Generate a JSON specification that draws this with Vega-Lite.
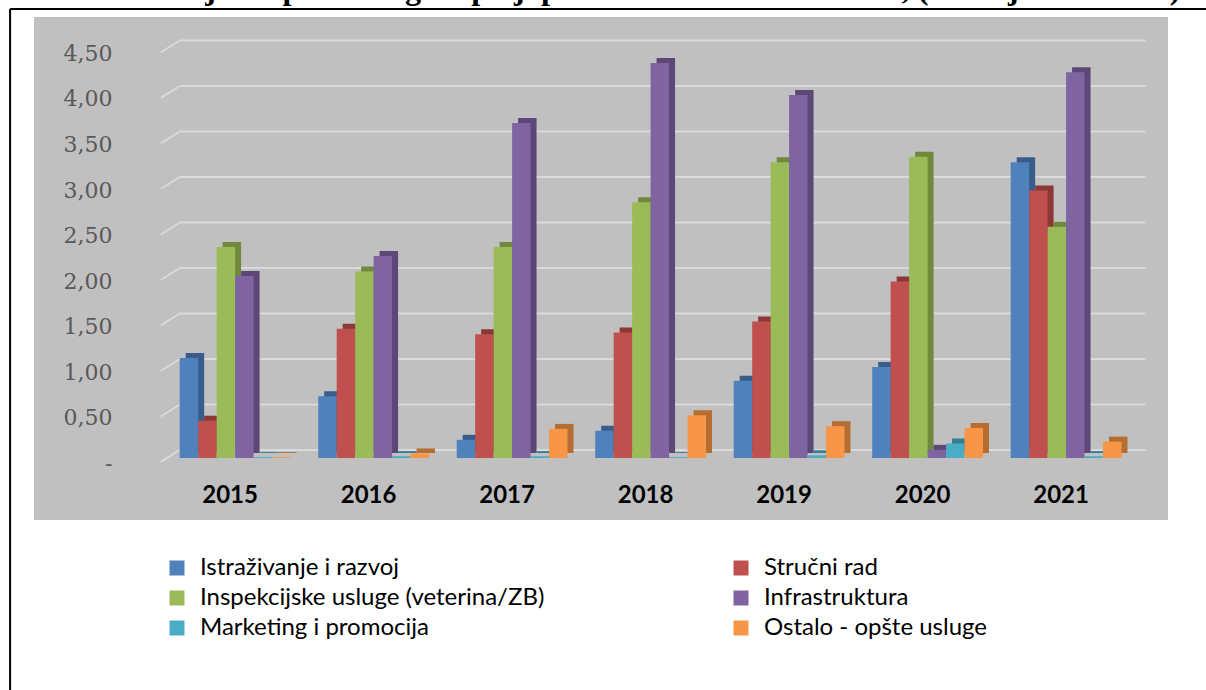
{
  "$schema": "https://vega.github.io/schema/vega-lite/v6.json",
  "width": 1134,
  "height": 503,
  "autosize": {"type": "none"},
  "padding": {"left": 34, "top": 17, "right": 38, "bottom": 170},
  "background": "white",
  "title": {
    "text": "Grafikon 7: Mjere opših usluga u poljoprivredi u BiH - struktura, (u milijunima KM)",
    "font": "Liberation Serif",
    "fontSize": 32.2,
    "fontWeight": "bold",
    "color": "black",
    "anchor": "start",
    "frame": "group",
    "baseline": "alphabetic",
    "offset": 0,
    "dx": -29,
    "dy": 23
  },
  "datasets": {
    "bars": [
      {"year": "2015", "series": "Istraživanje i razvoj", "value": 1.10},
      {"year": "2015", "series": "Stručni rad", "value": 0.41},
      {"year": "2015", "series": "Inspekcijske usluge (veterina/ZB)", "value": 2.32},
      {"year": "2015", "series": "Infrastruktura", "value": 2.00},
      {"year": "2015", "series": "Marketing i promocija", "value": 0.01},
      {"year": "2015", "series": "Ostalo - opšte usluge", "value": 0.01},
      {"year": "2016", "series": "Istraživanje i razvoj", "value": 0.68},
      {"year": "2016", "series": "Stručni rad", "value": 1.42},
      {"year": "2016", "series": "Inspekcijske usluge (veterina/ZB)", "value": 2.05},
      {"year": "2016", "series": "Infrastruktura", "value": 2.22},
      {"year": "2016", "series": "Marketing i promocija", "value": 0.02},
      {"year": "2016", "series": "Ostalo - opšte usluge", "value": 0.05},
      {"year": "2017", "series": "Istraživanje i razvoj", "value": 0.20},
      {"year": "2017", "series": "Stručni rad", "value": 1.36},
      {"year": "2017", "series": "Inspekcijske usluge (veterina/ZB)", "value": 2.32},
      {"year": "2017", "series": "Infrastruktura", "value": 3.68},
      {"year": "2017", "series": "Marketing i promocija", "value": 0.02},
      {"year": "2017", "series": "Ostalo - opšte usluge", "value": 0.32},
      {"year": "2018", "series": "Istraživanje i razvoj", "value": 0.30},
      {"year": "2018", "series": "Stručni rad", "value": 1.38},
      {"year": "2018", "series": "Inspekcijske usluge (veterina/ZB)", "value": 2.81},
      {"year": "2018", "series": "Infrastruktura", "value": 4.34},
      {"year": "2018", "series": "Marketing i promocija", "value": 0.01},
      {"year": "2018", "series": "Ostalo - opšte usluge", "value": 0.47},
      {"year": "2019", "series": "Istraživanje i razvoj", "value": 0.85},
      {"year": "2019", "series": "Stručni rad", "value": 1.50},
      {"year": "2019", "series": "Inspekcijske usluge (veterina/ZB)", "value": 3.25},
      {"year": "2019", "series": "Infrastruktura", "value": 3.99},
      {"year": "2019", "series": "Marketing i promocija", "value": 0.03},
      {"year": "2019", "series": "Ostalo - opšte usluge", "value": 0.35},
      {"year": "2020", "series": "Istraživanje i razvoj", "value": 1.00},
      {"year": "2020", "series": "Stručni rad", "value": 1.94},
      {"year": "2020", "series": "Inspekcijske usluge (veterina/ZB)", "value": 3.31},
      {"year": "2020", "series": "Infrastruktura", "value": 0.09},
      {"year": "2020", "series": "Marketing i promocija", "value": 0.16},
      {"year": "2020", "series": "Ostalo - opšte usluge", "value": 0.33},
      {"year": "2021", "series": "Istraživanje i razvoj", "value": 3.25},
      {"year": "2021", "series": "Stručni rad", "value": 2.94},
      {"year": "2021", "series": "Inspekcijske usluge (veterina/ZB)", "value": 2.54},
      {"year": "2021", "series": "Infrastruktura", "value": 4.24},
      {"year": "2021", "series": "Marketing i promocija", "value": 0.02},
      {"year": "2021", "series": "Ostalo - opšte usluge", "value": 0.18}
    ],
    "grid": [
      {"g": 0}, {"g": 0.5}, {"g": 1}, {"g": 1.5}, {"g": 2},
      {"g": 2.5}, {"g": 3}, {"g": 3.5}, {"g": 4}, {"g": 4.5}
    ]
  },
  "layer": [
    {
      "data": {"values": [{}]},
      "mark": {"type": "rule", "color": "black", "strokeWidth": 2},
      "encoding": {
        "x": {"datum": "2015", "type": "nominal", "bandPosition": -1.531},
        "y": {"datum": 4.934, "type": "quantitative"},
        "y2": {"datum": -2.7}
      }
    },
    {
      "data": {"values": [{}]},
      "mark": {"type": "rule", "color": "black", "strokeWidth": 2},
      "encoding": {
        "x": {"datum": "2015", "type": "nominal", "bandPosition": -1.531},
        "x2": {"datum": "2021", "bandPosition": 1.85},
        "y": {"datum": 4.934, "type": "quantitative"}
      }
    },
    {
      "data": {"name": "grid"},
      "mark": {"type": "rule", "color": "#dadada", "strokeWidth": 2, "yOffset": -8, "x2Offset": 24},
      "encoding": {
        "x": {"datum": "2015", "type": "nominal", "bandPosition": 0},
        "x2": {"datum": "2021", "bandPosition": 1},
        "y": {"field": "g", "type": "quantitative"}
      }
    },
    {
      "data": {"name": "grid"},
      "mark": {"type": "rule", "color": "#dadada", "strokeWidth": 2, "xOffset": -19, "yOffset": 4, "y2Offset": -8},
      "encoding": {
        "x": {"datum": "2015", "type": "nominal", "bandPosition": 0},
        "x2": {"datum": "2015", "bandPosition": 0},
        "y": {"field": "g", "type": "quantitative"},
        "y2": {"field": "g"}
      }
    },
    {
      "data": {"name": "bars"},
      "mark": {"type": "bar", "yOffset": -5, "y2Offset": -5},
      "encoding": {
        "x": {"field": "year", "type": "nominal"},
        "xOffset": {
          "field": "series", "type": "nominal",
          "sort": ["Istraživanje i razvoj", "Stručni rad", "Inspekcijske usluge (veterina/ZB)", "Infrastruktura", "Marketing i promocija", "Ostalo - opšte usluge"],
          "scale": {"paddingInner": 0, "paddingOuter": 0, "range": [6, 116.8]}
        },
        "y": {"field": "value", "type": "quantitative"},
        "color": {
          "field": "series", "type": "nominal",
          "sort": ["Istraživanje i razvoj", "Stručni rad", "Inspekcijske usluge (veterina/ZB)", "Infrastruktura", "Marketing i promocija", "Ostalo - opšte usluge"],
          "scale": {"range": ["#385d8a", "#8c3836", "#71893f", "#5c4776", "#357d91", "#b66d31"]},
          "legend": null
        }
      }
    },
    {
      "data": {"name": "bars"},
      "mark": {"type": "bar"},
      "encoding": {
        "x": {
          "field": "year", "type": "nominal",
          "scale": {"paddingInner": 0.2, "paddingOuter": 0.694, "align": 0.758},
          "axis": {
            "title": null, "orient": "bottom", "offset": -25, "domain": false, "ticks": false,
            "bandPosition": 0.5,
            "labelPadding": 0, "labelOffset": -5, "labelAngle": 0, "labelAlign": "center",
            "labelFont": "Lato", "labelFontSize": 24, "labelFontWeight": "bold", "labelColor": "black"
          }
        },
        "xOffset": {
          "field": "series", "type": "nominal",
          "sort": ["Istraživanje i razvoj", "Stručni rad", "Inspekcijske usluge (veterina/ZB)", "Infrastruktura", "Marketing i promocija", "Ostalo - opšte usluge"],
          "scale": {"paddingInner": 0, "paddingOuter": 0}
        },
        "y": {
          "field": "value", "type": "quantitative",
          "scale": {"domain": [-0.681, 4.846], "nice": false, "zero": false},
          "axis": {
            "title": null, "orient": "left", "offset": -80, "domain": false, "ticks": false, "grid": false,
            "values": [0, 0.5, 1, 1.5, 2, 2.5, 3, 3.5, 4, 4.5],
            "labelExpr": "datum.value == 0 ? '-' : replace(format(datum.value, '.2f'), '.', ',')",
            "labelPadding": 2, "labelOffset": 5,
            "labelFont": "DejaVu Serif", "labelFontSize": 22, "labelColor": "#595959"
          }
        },
        "color": {
          "field": "series", "type": "nominal",
          "sort": ["Istraživanje i razvoj", "Inspekcijske usluge (veterina/ZB)", "Marketing i promocija", "Stručni rad", "Infrastruktura", "Ostalo - opšte usluge"],
          "scale": {"range": ["#4f81bd", "#9bbb59", "#4bacc6", "#c0504d", "#8064a2", "#f79646"]},
          "legend": {
            "title": null, "orient": "none", "legendX": 131, "legendY": 539,
            "columns": 2, "columnPadding": 184, "rowPadding": 6,
            "symbolType": "square", "symbolSize": 225, "symbolStrokeWidth": 0,
            "labelFont": "Lato", "labelFontSize": 24, "labelColor": "black", "labelOffset": 11,
            "labelLimit": 600, "padding": 0
          }
        }
      }
    }
  ],
  "resolve": {"scale": {"color": "independent", "xOffset": "independent"}},
  "config": {
    "view": {"fill": "#c0c0c0", "stroke": null}
  }
}
